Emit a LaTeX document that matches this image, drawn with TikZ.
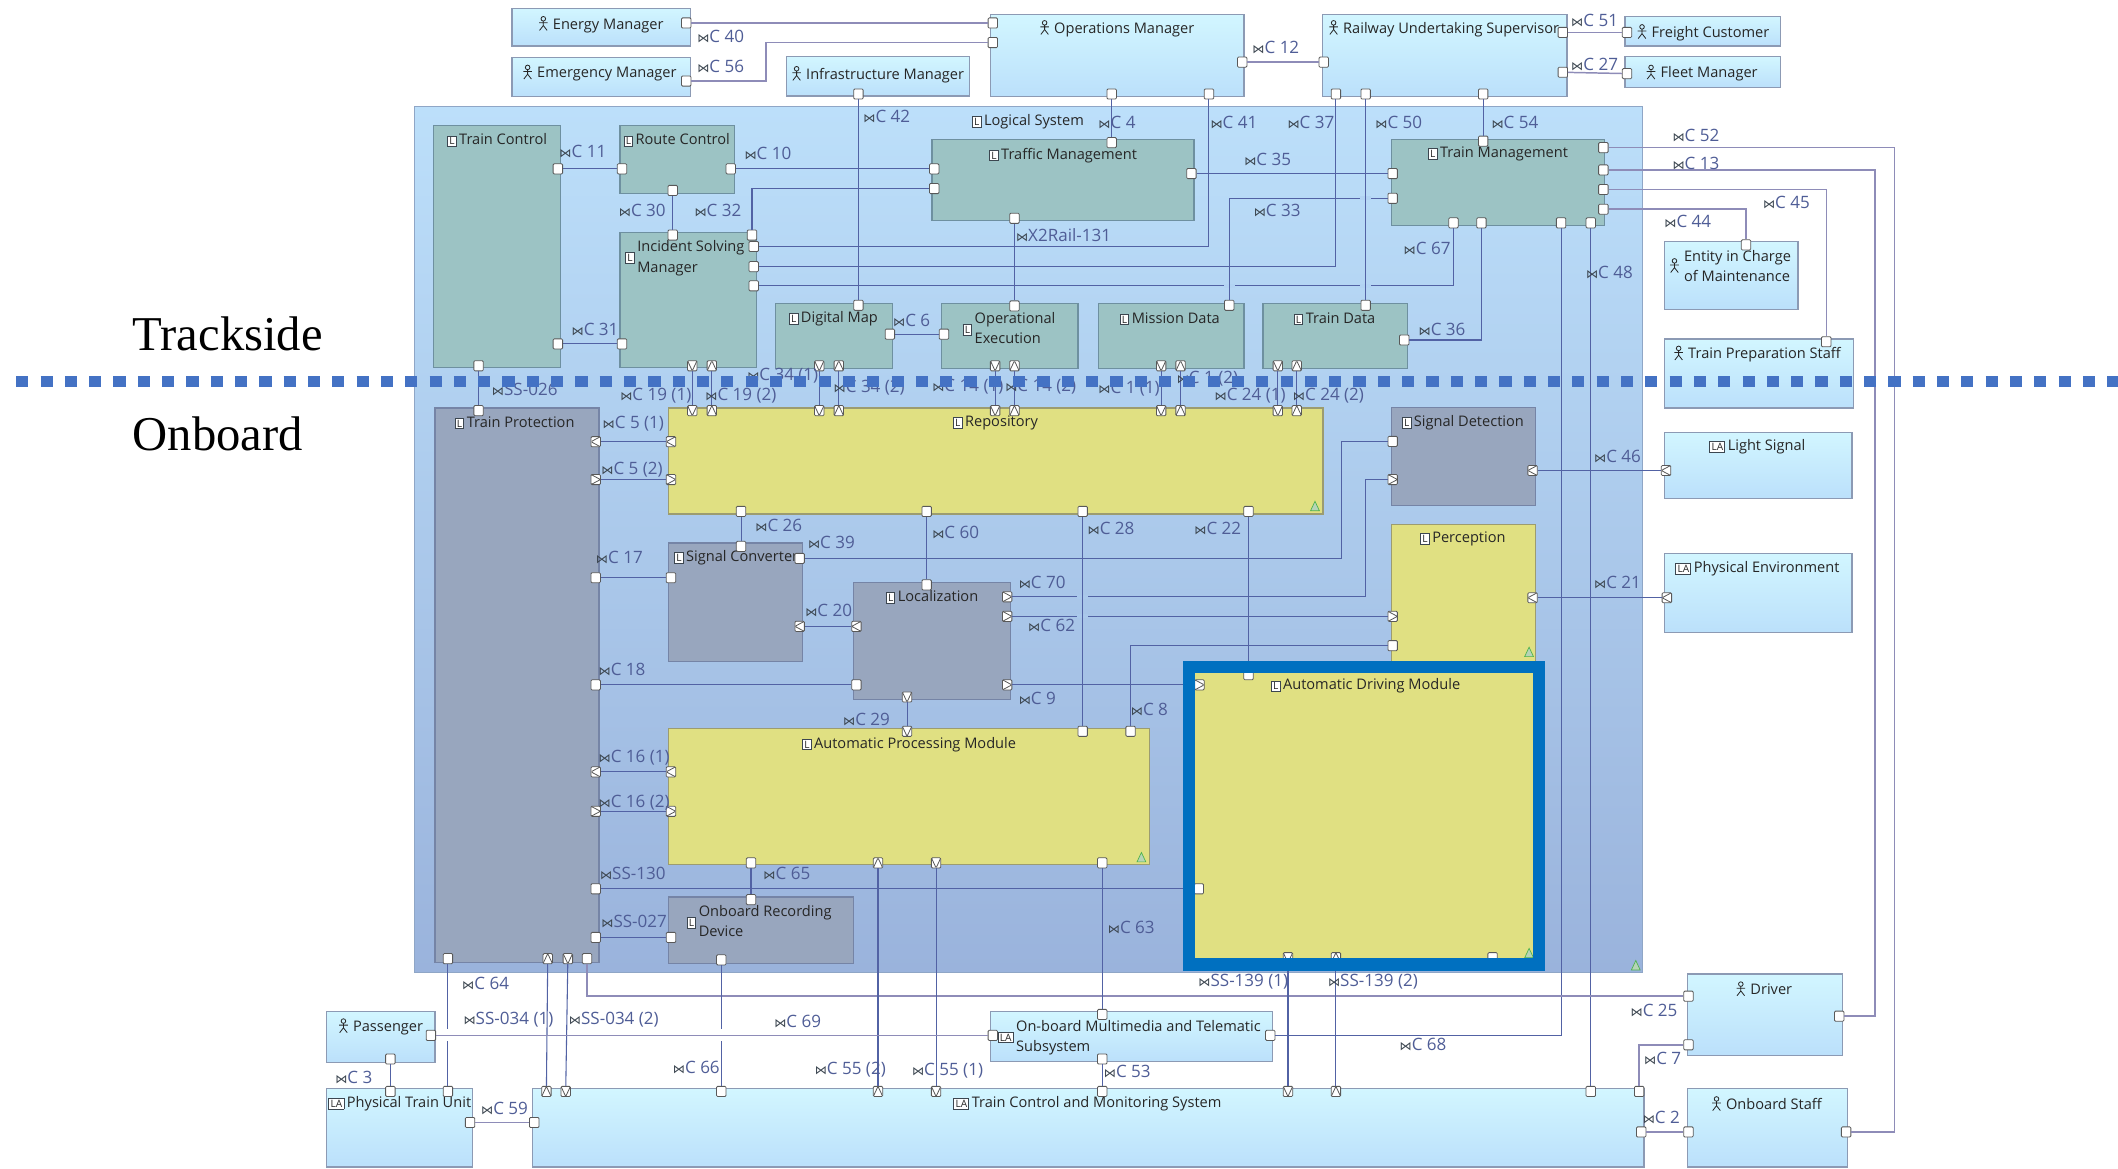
\documentclass[tikz,border=0pt]{standalone}
\usepackage{fontspec}
\setmainfont{Open Sans}
\newfontfamily\capfont{Liberation Serif}
\newfontfamily\symfont{DejaVu Sans}
\usetikzlibrary{shapes.geometric}
\definecolor{connblue}{HTML}{4F5D96}
\definecolor{wireblue}{HTML}{5262A4}
\definecolor{wirelav}{HTML}{8E8CB8}
\definecolor{icondark}{HTML}{3C4650}
\definecolor{sysborder}{HTML}{8FA6C6}
\definecolor{systop}{HTML}{BCDFFA}
\definecolor{sysbot}{HTML}{9AB3DC}
\definecolor{outerborder}{HTML}{8C9AB4}
\definecolor{outertop}{HTML}{D2F6FF}
\definecolor{outerbot}{HTML}{BBE0FB}
\definecolor{tealfill}{HTML}{9CC3C4}
\definecolor{tealborder}{HTML}{6E90A0}
\definecolor{yellowfill}{HTML}{E0E082}
\definecolor{yellowborder}{HTML}{9C9C70}
\definecolor{greyfill}{HTML}{98A6BE}
\definecolor{greyborder}{HTML}{7584A6}
\definecolor{hopfill}{HTML}{B2D3F3}
\definecolor{hopfilllow}{HTML}{AAC8EB}
\definecolor{framecol}{HTML}{0070C0}
\definecolor{divcol}{HTML}{4472C4}
\newcommand{\boxicon}[1]{{\setlength{\fboxsep}{0.9pt}\setlength{\fboxrule}{0.7pt}\fcolorbox{icondark}{white}{\fontsize{7.5}{7.5}\selectfont #1}}\,}
\newcommand{\actoricon}{\tikz[baseline=0pt,x=1pt,y=1pt,line width=0.6pt]{\draw (0,7.6) circle (1.7); \draw (0,5.9)--(0,2.6)--(-2.8,-1) (0,2.6)--(2.8,-1) (-3.2,4.6)--(3.2,4.6);}\,\,}
\newcommand{\twolines}[2]{\begin{tabular}{@{}l@{}}#1\\#2\end{tabular}}
\newcommand{\conicon}{{\symfont\fontsize{9}{9}\selectfont\textcolor{icondark}{⋈}}}
\begin{document}
\begin{tikzpicture}[x=1pt, y=-1pt]
        % Styles
        \tikzstyle{block} = [rectangle, anchor=north west, inner sep=0pt, outer sep=0pt, line width=0.9pt]
        \tikzstyle{systembox} = [block, draw=sysborder, top color=systop, bottom color=sysbot]
        \tikzstyle{outerbox} = [block, draw=outerborder, top color=outertop, bottom color=outerbot]
        \tikzstyle{tealbox} = [block, draw=tealborder, fill=tealfill]
        \tikzstyle{yellowbox} = [block, draw=yellowborder, fill=yellowfill]
        \tikzstyle{greybox} = [block, draw=greyborder, fill=greyfill]
        \tikzstyle{title} = [inner sep=0pt, align=left, text=black!85, font=\fontsize{10.8}{15}\selectfont]
        \tikzstyle{conn} = [inner sep=0pt, anchor=west, text=connblue, font=\fontsize{12.6}{14}\selectfont, execute at begin node=\conicon]
        \tikzstyle{port} = [rectangle, rounded corners=0.8pt, minimum width=7pt, minimum height=7.5pt, inner sep=0pt, draw=black!65, line width=0.6pt, fill=white]
        \tikzstyle{portl} = [port, path picture={\draw (path picture bounding box.north east) -- (path picture bounding box.west) -- (path picture bounding box.south east);}]
        \tikzstyle{portr} = [port, path picture={\draw (path picture bounding box.north west) -- (path picture bounding box.east) -- (path picture bounding box.south west);}]
        \tikzstyle{portd} = [port, path picture={\draw (path picture bounding box.north west) -- (path picture bounding box.south) -- (path picture bounding box.north east);}]
        \tikzstyle{portu} = [port, path picture={\draw (path picture bounding box.south west) -- (path picture bounding box.north) -- (path picture bounding box.south east);}]
        \tikzstyle{wire} = [draw=wireblue, line width=0.8pt]
        \tikzstyle{outwire} = [draw=wirelav, line width=1.1pt]
        \tikzstyle{hop} = [inner sep=0pt, minimum width=8pt, minimum height=3pt, fill=hopfill]
        \tikzstyle{hoplow} = [hop, fill=hopfilllow]
        \tikzstyle{hopw} = [inner sep=0pt, minimum width=3pt, minimum height=9pt, fill=white]
        \tikzstyle{cornermark} = [isosceles triangle, shape border rotate=90, isosceles triangle apex angle=50, inner sep=0pt, minimum height=7pt, minimum width=5pt, draw=green!40!gray, fill=green!25!gray!45!white, line width=0.5pt]

        \useasboundingbox (0,0) rectangle (1568,865.4);

        % Actors and systems around the logical system
        \node (energy) [outerbox, minimum width=132, minimum height=28] at (379,6) {};
        \node (emergency) [outerbox, minimum width=132, minimum height=29] at (379,42.5) {};
        \node (infra) [outerbox, minimum width=136, minimum height=29] at (582,42) {};
        \node (operations) [outerbox, minimum width=188, minimum height=61] at (733,10.5) {};
        \node (railway) [outerbox, minimum width=181, minimum height=61] at (979,10.5) {};
        \node (freight) [outerbox, minimum width=115, minimum height=22] at (1203,12) {};
        \node (fleet) [outerbox, minimum width=115, minimum height=23] at (1203,42) {};
        \node (entity) [outerbox, minimum width=99, minimum height=50] at (1232,179) {};
        \node (prepstaff) [outerbox, minimum width=140, minimum height=51] at (1232,251) {};
        \node (lightsig) [outerbox, minimum width=139, minimum height=49] at (1232,320) {};
        \node (physenv) [outerbox, minimum width=139, minimum height=59] at (1232,409.5) {};
        \node (passenger) [outerbox, minimum width=80, minimum height=37.5] at (242,749) {};
        \node (trainunit) [outerbox, minimum width=108, minimum height=58] at (242,806) {};
        \node (tcms) [outerbox, minimum width=823, minimum height=58] at (394,806) {};
        \node (multimedia) [outerbox, minimum width=209, minimum height=37] at (733,749) {};
        \node (driver) [outerbox, minimum width=115, minimum height=60.5] at (1249,721) {};
        \node (onbstaff) [outerbox, minimum width=119, minimum height=58] at (1249,806) {};

        % Logical system and its blocks
        \node (logical) [systembox, minimum width=909, minimum height=641] at (307,79) {};
        \node (trainctrl) [tealbox, minimum width=94, minimum height=179] at (321,93) {};
        \node (routectrl) [tealbox, minimum width=85, minimum height=50] at (459,93) {};
        \node (incident) [tealbox, minimum width=101, minimum height=100] at (459,172) {};
        \node (digmap) [tealbox, minimum width=87, minimum height=48.5] at (574,224.5) {};
        \node (opexec) [tealbox, minimum width=101, minimum height=48.5] at (697,224.5) {};
        \node (mission) [tealbox, minimum width=108, minimum height=48.5] at (813,224.5) {};
        \node (traindata) [tealbox, minimum width=107, minimum height=48.5] at (935,224.5) {};
        \node (traffic) [tealbox, minimum width=194, minimum height=60] at (690,103.5) {};
        \node (trainmgmt) [tealbox, minimum width=158, minimum height=64] at (1030,103) {};
        \node (trainprot) [greybox, minimum width=121.5, minimum height=410.5] at (322,302) {};
        \node (repository) [yellowbox, minimum width=484.5, minimum height=78.5] at (495,302) {};
        \node (sigdetect) [greybox, minimum width=107, minimum height=72.5] at (1030,301.5) {};
        \node (perception) [yellowbox, minimum width=107, minimum height=102] at (1030,388.5) {};
        \node (sigconv) [greybox, minimum width=99, minimum height=88] at (495,402) {};
        \node (localization) [greybox, minimum width=116, minimum height=87] at (632,431) {};
        \node (autoproc) [yellowbox, minimum width=356, minimum height=100.5] at (495,539.5) {};
        \node (autodrive) [yellowbox, minimum width=259, minimum height=220.5] at (880.5,493.5) {};
        \node (recording) [greybox, minimum width=137, minimum height=49] at (495,664) {};

        % Small marks in the corners
        \node (mark1) [cornermark] at (973.5,376) {};
        \node (mark2) [cornermark] at (1132,484) {};
        \node (mark3) [cornermark] at (845,636) {};
        \node (mark4) [cornermark] at (1132,707) {};
        \node (mark5) [cornermark] at (1211,716) {};

        % Titles
        \node (tenergy) [title] at (445,18) {\actoricon Energy Manager};
        \node (temergency) [title] at (444,54) {\actoricon Emergency Manager};
        \node (tinfra) [title] at (650,55) {\actoricon Infrastructure Manager};
        \node (toperations) [title] at (827,21) {\actoricon Operations Manager};
        \node (trailway) [title] at (1069,21) {\actoricon Railway Undertaking Supervisor};
        \node (tfreight) [title] at (1261,24) {\actoricon Freight Customer};
        \node (tfleet) [title] at (1260,54) {\actoricon Fleet Manager};
        \node (tentity) [title] at (1281,198) {\actoricon\twolines{Entity in Charge}{of Maintenance}};
        \node (tprepstaff) [title] at (1301,262) {\actoricon Train Preparation Staff};
        \node (tlightsig) [title] at (1301,331) {\boxicon{LA}Light Signal};
        \node (tphysenv) [title] at (1301,421) {\boxicon{LA}Physical Environment};
        \node (tpassenger) [title] at (282,760) {\actoricon Passenger};
        \node (ttrainunit) [title] at (296,817) {\boxicon{LA}Physical Train Unit};
        \node (ttcms) [title] at (805,817) {\boxicon{LA}Train Control and Monitoring System};
        \node (tmultimedia) [title] at (836,768) {\boxicon{LA}\twolines{On-board Multimedia and Telematic}{Subsystem}};
        \node (tdriver) [title] at (1306,732) {\actoricon Driver};
        \node (tonbstaff) [title] at (1308,817) {\actoricon Onboard Staff};
        \node (tlogical) [title] at (761,90) {\boxicon{L}Logical System};
        \node (ttrainctrl) [title] at (368,104) {\boxicon{L}Train Control};
        \node (troutectrl) [title] at (501,104) {\boxicon{L}Route Control};
        \node (tincident) [title] at (507,191) {\boxicon{L}\twolines{Incident Solving}{Manager}};
        \node (tdigmap) [title] at (617,236) {\boxicon{L}Digital Map};
        \node (topexec) [title] at (747,244) {\boxicon{L}\twolines{Operational}{Execution}};
        \node (tmission) [title] at (866,236) {\boxicon{L}Mission Data};
        \node (ttraindata) [title] at (988,236) {\boxicon{L}Train Data};
        \node (ttraffic) [title] at (787,115) {\boxicon{L}Traffic Management};
        \node (ttrainmgmt) [title] at (1109,114) {\boxicon{L}Train Management};
        \node (ttrainprot) [title] at (381,313) {\boxicon{L}Train Protection};
        \node (trepository) [title] at (737,313) {\boxicon{L}Repository};
        \node (tsigdetect) [title] at (1083,313) {\boxicon{L}Signal Detection};
        \node (tperception) [title] at (1083,399) {\boxicon{L}Perception};
        \node (tsigconv) [title] at (545,413) {\boxicon{L}Signal Converter};
        \node (tlocalization) [title] at (690,442) {\boxicon{L}Localization};
        \node (tautoproc) [title] at (673,551) {\boxicon{L}Automatic Processing Module};
        \node (tautodrive) [title] at (1011,508) {\boxicon{L}Automatic Driving Module};
        \node (trecording) [title] at (562,683) {\boxicon{L}\twolines{Onboard Recording}{Device}};

        % Ports
        \node (p40a) [port] at (508,17) {};
        \node (p40b) [port] at (735,17) {};
        \node (p56a) [port] at (508,60) {};
        \node (p56b) [port] at (735,31.5) {};
        \node (p42a) [port] at (635.5,69.6) {};
        \node (p42b) [port] at (635.5,226) {};
        \node (p4a) [port] at (823,69.6) {};
        \node (p4b) [port] at (823,105.6) {};
        \node (p41a) [port] at (895,69.6) {};
        \node (p41b) [port] at (558,182.5) {};
        \node (p37a) [port] at (989,69.6) {};
        \node (p37b) [port] at (558,197.4) {};
        \node (p50a) [port] at (1011,69.6) {};
        \node (p50b) [port] at (1011,226) {};
        \node (p54a) [port] at (1098,69.6) {};
        \node (p54b) [port] at (1098,104.5) {};
        \node (p12a) [port] at (919.6,46) {};
        \node (p12b) [port] at (980,46) {};
        \node (p51a) [port] at (1157,24) {};
        \node (p51b) [port] at (1204.5,24) {};
        \node (p27a) [port] at (1157,53.5) {};
        \node (p27b) [port] at (1204.5,54.5) {};
        \node (p11a) [port] at (413,125) {};
        \node (p11b) [port] at (460.5,125) {};
        \node (p10a) [port] at (541,125) {};
        \node (p10b) [port] at (691.6,125) {};
        \node (p32a) [port] at (556.7,174) {};
        \node (p32b) [port] at (691.6,139.6) {};
        \node (p30a) [port] at (498,141) {};
        \node (p30b) [port] at (498,174) {};
        \node (p31a) [port] at (413,254.6) {};
        \node (p31b) [port] at (460.5,254.6) {};
        \node (px2a) [port] at (751,161.6) {};
        \node (px2b) [port] at (751,226.5) {};
        \node (p6a) [port] at (658.8,247.4) {};
        \node (p6b) [port] at (698.8,247.4) {};
        \node (p35a) [port] at (882,128.5) {};
        \node (p35b) [port] at (1031,128.5) {};
        \node (p33a) [port] at (1031,146.8) {};
        \node (p33b) [port] at (910,226) {};
        \node (p67a) [port] at (1076,165) {};
        \node (p67b) [port] at (558,211.6) {};
        \node (p36a) [port] at (1096.7,165) {};
        \node (p36b) [port] at (1039.6,251.7) {};
        \node (p48a) [port] at (1177.7,165) {};
        \node (p48b) [port] at (1177.7,808) {};
        \node (p68a) [port] at (1155.7,165) {};
        \node (p68b) [port] at (940.4,766.5) {};
        \node (p52a) [port] at (1187,109.3) {};
        \node (p52b) [port] at (1366.7,838) {};
        \node (p13a) [port] at (1187,125.8) {};
        \node (p13b) [port] at (1361.6,752.3) {};
        \node (p45a) [port] at (1187,140.3) {};
        \node (p45b) [port] at (1352,253) {};
        \node (p44a) [port] at (1187,154.9) {};
        \node (p44b) [port] at (1292.6,181.3) {};
        \node (p191a) [portd] at (512.5,270.8) {};
        \node (p191b) [portd] at (512.5,304) {};
        \node (p192a) [portu] at (527,270.8) {};
        \node (p192b) [portu] at (527,304) {};
        \node (p341a) [portd] at (606.5,270.8) {};
        \node (p341b) [portd] at (606.5,304) {};
        \node (p342a) [portu] at (621,270.8) {};
        \node (p342b) [portu] at (621,304) {};
        \node (p141a) [portd] at (736.7,270.8) {};
        \node (p141b) [portd] at (736.7,304) {};
        \node (p142a) [portu] at (751,270.8) {};
        \node (p142b) [portu] at (751,304) {};
        \node (p11c) [portd] at (859.6,270.8) {};
        \node (p11d) [portd] at (859.6,304) {};
        \node (p12c) [portu] at (874,270.8) {};
        \node (p12d) [portu] at (874,304) {};
        \node (p241a) [portd] at (946,270.8) {};
        \node (p241b) [portd] at (946,304) {};
        \node (p242a) [portu] at (960,270.8) {};
        \node (p242b) [portu] at (960,304) {};
        \node (pss26a) [port] at (354.3,270.8) {};
        \node (pss26b) [port] at (354.3,304) {};
        \node (p51c) [portl] at (441,327) {};
        \node (p51d) [portl] at (496.7,327) {};
        \node (p52c) [portr] at (441,355) {};
        \node (p52d) [portr] at (496.7,355) {};
        \node (p17a) [port] at (441,427.7) {};
        \node (p17b) [port] at (496.7,427.7) {};
        \node (p26a) [port] at (548.6,378.6) {};
        \node (p26b) [port] at (548.6,404.5) {};
        \node (p60a) [port] at (686,378.6) {};
        \node (p60b) [port] at (686,433) {};
        \node (p28a) [port] at (801.5,378.6) {};
        \node (p28b) [port] at (801.5,541.4) {};
        \node (p22a) [port] at (924.3,378.6) {};
        \node (p22b) [port] at (924.3,499.5) {};
        \node (p39a) [port] at (592,413.4) {};
        \node (p39b) [port] at (1031,326.8) {};
        \node (p70a) [portr] at (745.6,441.8) {};
        \node (p70b) [portr] at (1031,355) {};
        \node (p62a) [portr] at (745.6,456.3) {};
        \node (p62b) [portr] at (1031,456.3) {};
        \node (p8a) [port] at (837,541.4) {};
        \node (p8b) [port] at (1031,478) {};
        \node (p9a) [portr] at (745.6,507) {};
        \node (p9b) [portr] at (888,507) {};
        \node (p18a) [port] at (441,507) {};
        \node (p18b) [port] at (634,507) {};
        \node (p20a) [portl] at (592,463.7) {};
        \node (p20b) [portl] at (634,463.7) {};
        \node (p29a) [portd] at (671.5,516) {};
        \node (p29b) [portd] at (671.5,541.4) {};
        \node (p161a) [portl] at (441,571.4) {};
        \node (p161b) [portl] at (496.7,571.4) {};
        \node (p162a) [portr] at (441,600.6) {};
        \node (p162b) [portr] at (496.7,600.6) {};
        \node (pss130a) [port] at (441,658) {};
        \node (pss130b) [port] at (887.5,658) {};
        \node (pss27a) [port] at (441,694) {};
        \node (pss27b) [port] at (496.8,694) {};
        \node (p65a) [port] at (556,638.8) {};
        \node (p65b) [port] at (556,666) {};
        \node (p64a) [port] at (331.6,709.7) {};
        \node (p64b) [port] at (331.6,808) {};
        \node (pss341a) [portu] at (405.5,709.7) {};
        \node (pss341b) [portu] at (404.5,808) {};
        \node (pss342a) [portd] at (420.4,709.7) {};
        \node (pss342b) [portd] at (418.8,808) {};
        \node (p25a) [port] at (434.6,709.7) {};
        \node (p25b) [port] at (1250,737.5) {};
        \node (p66a) [port] at (534,710.6) {};
        \node (p66b) [port] at (534,808) {};
        \node (p552a) [portu] at (650,638.8) {};
        \node (p552b) [portu] at (650,808) {};
        \node (p551a) [portd] at (693,638.8) {};
        \node (p551b) [portd] at (693,808) {};
        \node (p63a) [port] at (816,638.8) {};
        \node (p63b) [port] at (816,751) {};
        \node (p53a) [port] at (816,784) {};
        \node (p53b) [port] at (816,808) {};
        \node (p69a) [port] at (319,766.5) {};
        \node (p69b) [port] at (735,766.5) {};
        \node (p3a) [port] at (289,784) {};
        \node (p3b) [port] at (289,808) {};
        \node (p59a) [port] at (348,831) {};
        \node (p59b) [port] at (395.5,831) {};
        \node (pss391a) [portd] at (953.5,709) {};
        \node (pss391b) [portd] at (953.5,808) {};
        \node (pss392a) [portu] at (989,709) {};
        \node (pss392b) [portu] at (989,808) {};
        \node (pfree) [port] at (1105,709) {};
        \node (p7a) [port] at (1213.5,808) {};
        \node (p7b) [port] at (1250,773.5) {};
        \node (p2a) [port] at (1215,838) {};
        \node (p2b) [port] at (1250,838) {};
        \node (p46a) [portl] at (1134.6,348.3) {};
        \node (p46b) [portl] at (1233.4,348.3) {};
        \node (p21a) [portl] at (1134.6,442.5) {};
        \node (p21b) [portl] at (1234,442.5) {};

        % Bends
        \coordinate (b56) at (567,31.5);
        \coordinate (b52) at (1402.5,838);
        \coordinate (b13) at (1388,752.3);
        \coordinate (b39) at (992.8,326.8);
        \coordinate (b70) at (1010.6,355);

        % Connectors
        \draw [outwire] (p40a) -- (p40b);
        \draw [outwire] (p56a) -| (b56) -- (p56b);
        \draw [wire] (p42a) -- (p42b);
        \draw [wire] (p4a) -- (p4b);
        \draw [wire] (p41a) |- (p41b);
        \draw [wire] (p37a) |- (p37b);
        \draw [wire] (p54a) -- (p54b);
        \draw [outwire] (p12a) -- (p12b);
        \draw [outwire] (p51a) -- (p51b);
        \draw [outwire] (p27a) -- (p27b);
        \draw [wire] (p11a) -- (p11b);
        \draw [wire] (p10a) -- (p10b);
        \draw [wire] (p32a) |- (p32b);
        \draw [wire] (p30a) -- (p30b);
        \draw [wire] (p31a) -- (p31b);
        \draw [wire] (px2a) -- (px2b);
        \draw [wire] (p6a) -- (p6b);
        \draw [wire] (p35a) -- (p35b);
        \draw [wire] (p67a) |- (p67b);
        \node (hop1) [hop] at (910,211.6) {};
        \node (hop2) [hop] at (1011,211.6) {};
        \draw [wire] (p33b) |- (p33a);
        \node (hop3) [hop] at (1011,146.8) {};
        \draw [wire] (p50a) -- (p50b);
        \draw [wire] (p36a) |- (p36b);
        \draw [wire] (p48a) -- (p48b);
        \draw [wire] (p68a) |- (p68b);
        \draw [outwire] (p52a) -| (b52) -- (p52b);
        \draw [outwire] (p13a) -| (b13) -- (p13b);
        \draw [outwire] (p45a) -| (p45b);
        \draw [outwire] (p44a) -| (p44b);
        \draw [wire] (p191a) -- (p191b);
        \draw [wire] (p192a) -- (p192b);
        \draw [wire] (p341a) -- (p341b);
        \draw [wire] (p342a) -- (p342b);
        \draw [wire] (p141a) -- (p141b);
        \draw [wire] (p142a) -- (p142b);
        \draw [wire] (p11c) -- (p11d);
        \draw [wire] (p12c) -- (p12d);
        \draw [wire] (p241a) -- (p241b);
        \draw [wire] (p242a) -- (p242b);
        \draw [wire] (pss26a) -- (pss26b);
        \draw [wire] (p51c) -- (p51d);
        \draw [wire] (p52c) -- (p52d);
        \draw [wire] (p17a) -- (p17b);
        \draw [wire] (p26a) -- (p26b);
        \draw [wire] (p60a) -- (p60b);
        \draw [wire] (p22a) -- (p22b);
        \draw [wire] (p39a) -| (b39) -- (p39b);
        \draw [wire] (p70a) -| (b70) -- (p70b);
        \draw [wire] (p62a) -- (p62b);
        \node (hop4) [hoplow] at (801.5,441.8) {};
        \node (hop5) [hoplow] at (801.5,456.3) {};
        \draw [wire] (p28a) -- (p28b);
        \draw [wire] (p8a) |- (p8b);
        \draw [wire] (p9a) -- (p9b);
        \draw [wire] (p18a) -- (p18b);
        \draw [wire] (p20a) -- (p20b);
        \draw [wire] (p29a) -- (p29b);
        \draw [wire] (p161a) -- (p161b);
        \draw [wire] (p162a) -- (p162b);
        \draw [wire] (pss130a) -- (pss130b);
        \draw [wire] (pss27a) -- (pss27b);
        \draw [wire] (p65a) -- (p65b);
        \draw [wire] (p64a) -- (p64b);
        \draw [wire] (pss341a) -- (pss341b);
        \draw [wire] (pss342a) -- (pss342b);
        \draw [outwire] (p25a) |- (p25b);
        \draw [wire] (p66a) -- (p66b);
        \draw [wire] (p552a) -- (p552b);
        \draw [wire] (p551a) -- (p551b);
        \draw [wire] (p63a) -- (p63b);
        \draw [wire] (p53a) -- (p53b);
        \node (hop6) [hopw] at (331.6,766.5) {};
        \node (hop7) [hopw] at (534,766.5) {};
        \draw [outwire] (p69a) -- (p69b);
        \draw [wire] (p3a) -- (p3b);
        \draw [outwire] (p59a) -- (p59b);
        \draw [wire] (pss391a) -- (pss391b);
        \draw [wire] (pss392a) -- (pss392b);
        \draw [outwire] (p7a) |- (p7b);
        \draw [outwire] (p2a) -- (p2b);
        \draw [wire] (p46a) -- (p46b);
        \draw [wire] (p21a) -- (p21b);

        % Connector labels
        \node (c40) [conn] at (516,27) {C 40};
        \node (c56) [conn] at (516,49) {C 56};
        \node (c42) [conn] at (639,86) {C 42};
        \node (c4) [conn] at (813,91) {C 4};
        \node (c41) [conn] at (896,91) {C 41};
        \node (c37) [conn] at (953,91) {C 37};
        \node (c50) [conn] at (1018,91) {C 50};
        \node (c54) [conn] at (1104,91) {C 54};
        \node (c52) [conn] at (1238,100) {C 52};
        \node (c13) [conn] at (1238,121) {C 13};
        \node (c45) [conn] at (1305,150) {C 45};
        \node (c44) [conn] at (1232,164) {C 44};
        \node (c12) [conn] at (927,35) {C 12};
        \node (c51) [conn] at (1163,15) {C 51};
        \node (c27) [conn] at (1163,48) {C 27};
        \node (c11) [conn] at (414,112) {C 11};
        \node (c10) [conn] at (551,114) {C 10};
        \node (c35) [conn] at (921,118) {C 35};
        \node (c33) [conn] at (928,156) {C 33};
        \node (c30) [conn] at (458,156) {C 30};
        \node (c32) [conn] at (514,156) {C 32};
        \node (c31) [conn] at (423,244) {C 31};
        \node (cx2) [conn] at (752,174) {X2Rail-131};
        \node (c67) [conn] at (1039,184) {C 67};
        \node (c48) [conn] at (1174,202) {C 48};
        \node (c6) [conn] at (661,237) {C 6};
        \node (c36) [conn] at (1050,244) {C 36};
        \node (css26) [conn] at (364,288) {SS-026};
        \node (c191) [conn] at (459,293) {C 19 (1)};
        \node (c192) [conn] at (522,293) {C 19 (2)};
        \node (c341) [conn] at (553,278) {C 34 (1)};
        \node (c342) [conn] at (617,287) {C 34 (2)};
        \node (c141) [conn] at (690,286) {C 14 (1)};
        \node (c142) [conn] at (744,286) {C 14 (2)};
        \node (c11b) [conn] at (813,288) {C 1 (1)};
        \node (c12b) [conn] at (871,280) {C 1 (2)};
        \node (c241) [conn] at (899,293) {C 24 (1)};
        \node (c242) [conn] at (957,293) {C 24 (2)};
        \node (c51b) [conn] at (446,314) {C 5 (1)};
        \node (c52b) [conn] at (445,348) {C 5 (2)};
        \node (c46) [conn] at (1180,338) {C 46};
        \node (c26) [conn] at (559,389) {C 26};
        \node (c39) [conn] at (598,402) {C 39};
        \node (c60) [conn] at (690,394) {C 60};
        \node (c28) [conn] at (805,391) {C 28};
        \node (c22) [conn] at (884,391) {C 22};
        \node (c17) [conn] at (441,413) {C 17};
        \node (c70) [conn] at (754,431) {C 70};
        \node (c62) [conn] at (761,463) {C 62};
        \node (c20) [conn] at (596,452) {C 20};
        \node (c21) [conn] at (1180,431) {C 21};
        \node (c18) [conn] at (443,496) {C 18};
        \node (c9) [conn] at (754,517) {C 9};
        \node (c29) [conn] at (624,533) {C 29};
        \node (c8) [conn] at (837,525) {C 8};
        \node (c161) [conn] at (443,561) {C 16 (1)};
        \node (c162) [conn] at (443,594) {C 16 (2)};
        \node (css130) [conn] at (444,647) {SS-130};
        \node (c65) [conn] at (565,647) {C 65};
        \node (css27) [conn] at (445,682) {SS-027};
        \node (c63) [conn] at (820,687) {C 63};
        \node (c64) [conn] at (342,728) {C 64};
        \node (css391) [conn] at (887,727) {SS-139 (1)};
        \node (css392) [conn] at (983,727) {SS-139 (2)};
        \node (css341) [conn] at (343,755) {SS-034 (1)};
        \node (css342) [conn] at (421,755) {SS-034 (2)};
        \node (c69) [conn] at (573,756) {C 69};
        \node (c25) [conn] at (1207,748) {C 25};
        \node (c68) [conn] at (1036,773) {C 68};
        \node (c7) [conn] at (1217,784) {C 7};
        \node (c3) [conn] at (248,798) {C 3};
        \node (c66) [conn] at (498,790) {C 66};
        \node (c552) [conn] at (603,792) {C 55 (2)};
        \node (c551) [conn] at (675,793) {C 55 (1)};
        \node (c53) [conn] at (817,793) {C 53};
        \node (c59) [conn] at (356,821) {C 59};
        \node (c2) [conn] at (1216,827) {C 2};

        % Highlight frame round the driving module
        \node (driveframe) [block, draw=framecol, line width=9pt, minimum width=259, minimum height=220.5] at (880.5,493.5) {};

        % Division between trackside and onboard
        \node (trackside) [anchor=west, inner sep=0pt, font=\capfont\fontsize{36}{38}\selectfont] at (98,247) {Trackside};
        \node (onboard) [anchor=west, inner sep=0pt, font=\capfont\fontsize{36}{38}\selectfont] at (98,321) {Onboard};
        \coordinate (divleft) at (12,282.4);
        \coordinate (divright) at (1568,282.4);
        \draw [draw=divcol, line width=8.5pt, dash pattern=on 9pt off 9pt] (divleft) -- (divright);

    \end{tikzpicture}
\end{document}
